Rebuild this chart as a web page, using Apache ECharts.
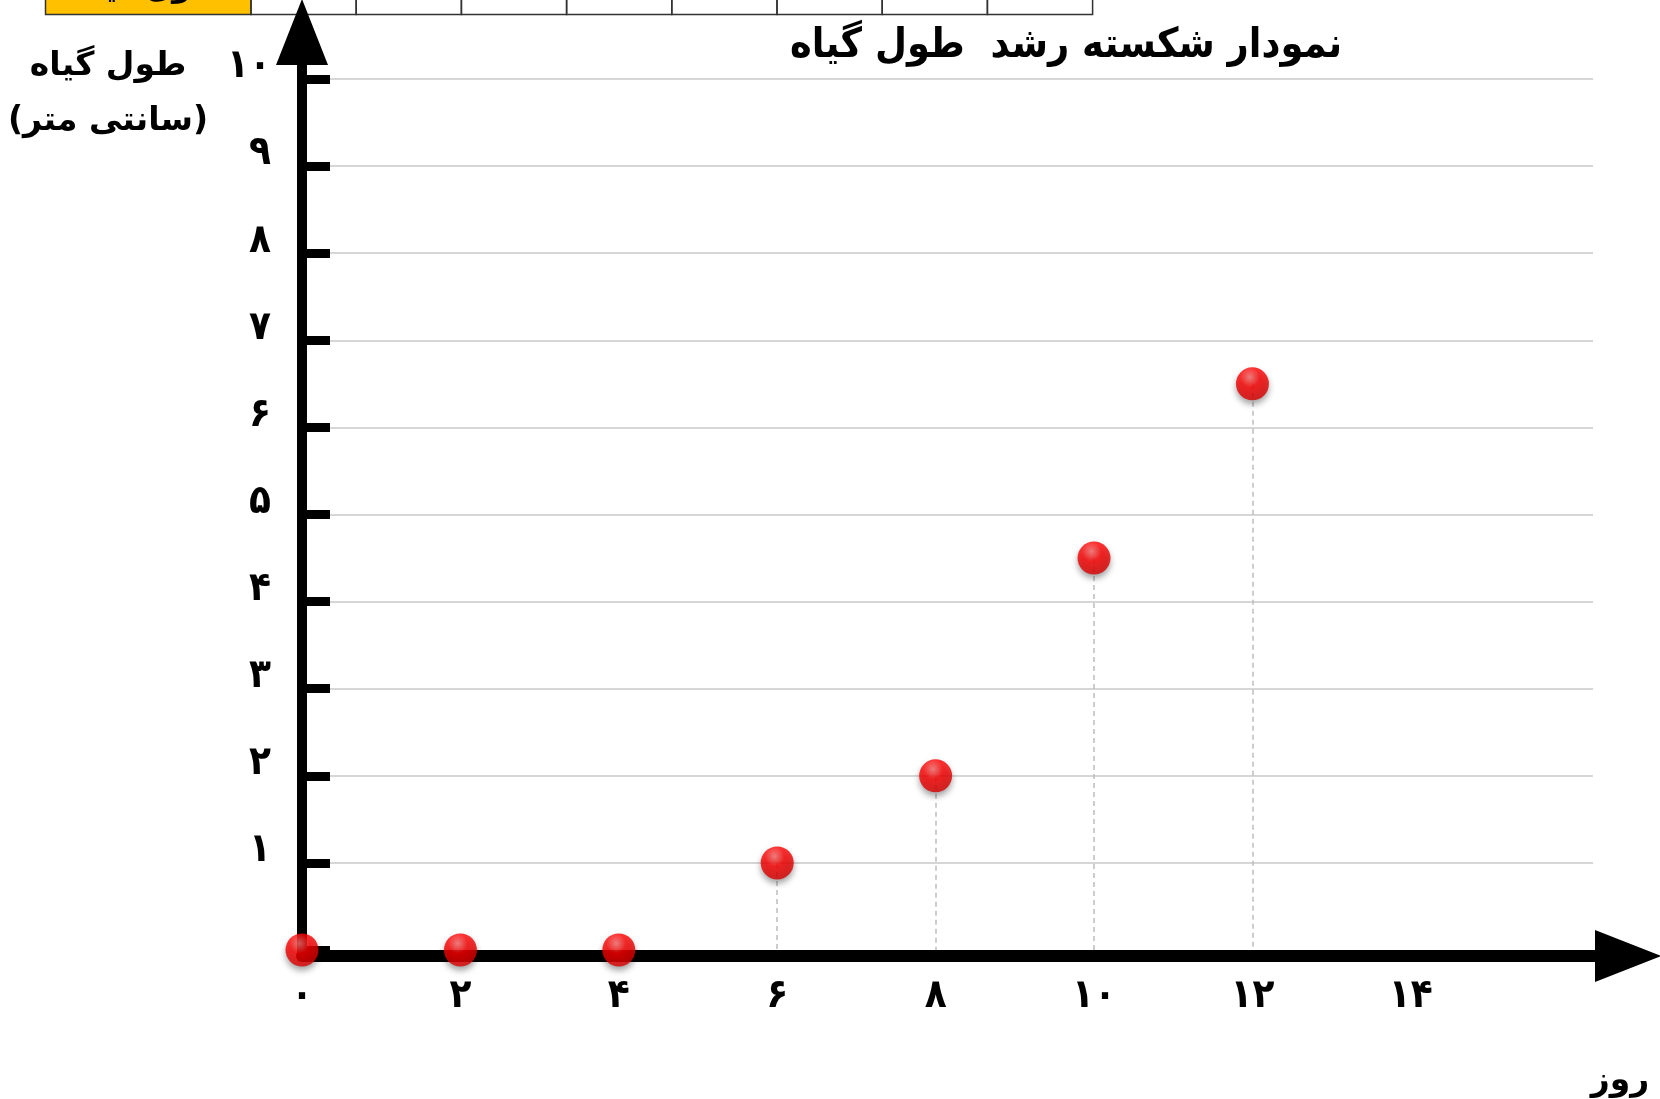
<!DOCTYPE html>
<html>
<head>
<meta charset="utf-8">
<script src="https://cdn.jsdelivr.net/npm/echarts@6/dist/echarts.min.js"></script>
<style>
  html, body { margin: 0; padding: 0; background: #ffffff; }
  #chart { width: 1660px; height: 1099px; }
</style>
</head>
<body>
<div id="chart"></div>
<script>
// ---- data ----
var days = [0, 2, 4, 6, 8, 10, 12];
var heights = [0, 0, 0, 1, 2, 4.5, 6.5];
var xTickLabels = ['۰', '۲', '۴', '۶', '۸', '۱۰', '۱۲', '۱۴'];
var yTickLabels = ['', '۱', '۲', '۳', '۴', '۵', '۶', '۷', '۸', '۹', '۱۰'];
var chartTitle = 'نمودار شکسته رشد  طول گیاه';
var yAxisName = 'طول گیاه\n(سانتی متر)';
var xAxisName = 'روز';
var tableHeader = 'طول گیاه';

var FONT = '"DejaVu Sans Condensed", "DejaVu Sans", sans-serif';
var FONT2 = '"DejaVu Sans", sans-serif';
var chart = echarts.init(document.getElementById('chart'), null, { renderer: 'canvas' });

var points = days.map(function (d, i) { return [d, heights[i]]; });
var dropLines = [];
days.forEach(function (d, i) {
  if (heights[i] > 0) dropLines.push([{ coord: [d, heights[i]] }, { coord: [d, 0] }]);
});

// split line colours: the one at 0 sits under the x axis line
var splitColors = yTickLabels.map(function (t, i) { return i === 0 ? 'rgba(0,0,0,0)' : '#c8c8c8'; });

// decorative table fragment at the top
var tableCells = [];
tableCells.push({ type: 'rect', shape: { x: 45.5, y: -20, width: 205.5, height: 34.5 },
  style: { fill: '#FFC000', stroke: '#333', lineWidth: 1.5 } });
tableCells.push({ type: 'text', x: 148, y: 4, style: { text: tableHeader, fill: '#000',
  font: 'bold 30px ' + FONT2, textAlign: 'center', textVerticalAlign: 'bottom' } });
for (var c = 0; c < 8; c++) {
  tableCells.push({ type: 'rect', shape: { x: 251 + c * 105.2, y: -20, width: 105.2, height: 34.5 },
    style: { fill: 'none', stroke: '#333', lineWidth: 1.5 } });
}

var option = {
  backgroundColor: '#ffffff',
  animation: false,
  title: [
    { text: chartTitle, left: 1066, top: 46, padding: 0, textAlign: 'center', textVerticalAlign: 'middle',
      textStyle: { fontFamily: FONT, fontSize: 41, fontWeight: 'bold', color: '#000' } },
    { text: yAxisName, left: 108, top: 94, padding: 0, textAlign: 'center', textVerticalAlign: 'middle',
      textStyle: { fontFamily: FONT2, fontSize: 33, fontWeight: 'bold', color: '#000', lineHeight: 55 } },
    { text: xAxisName, left: 1620, top: 1081, padding: 0, textAlign: 'center', textVerticalAlign: 'middle',
      textStyle: { fontFamily: FONT2, fontSize: 33, fontWeight: 'bold', color: '#000' } }
  ],
  graphic: tableCells,
  grid: [
    { left: 302, right: 67, top: 79, bottom: 149, containLabel: false },
    { left: 302, right: 65, top: 65, bottom: 143, containLabel: false }
  ],
  xAxis: [
    { type: 'value', gridIndex: 0, min: 0, max: 16.3, interval: 2,
      axisLine: { show: false }, axisTick: { show: false }, splitLine: { show: false },
      axisLabel: { margin: 27, color: '#000', fontFamily: FONT, fontSize: 40, fontWeight: 'bold',
        showMaxLabel: false,
        formatter: function (v) { var k = Math.round(v / 2); return (Math.abs(v - k * 2) < 1e-6 && xTickLabels[k]) ? xTickLabels[k] : ''; } } },
    { type: 'value', gridIndex: 1, min: 0, max: 1,
      axisLine: { show: true, symbol: ['none', 'triangle'], symbolSize: [52, 66], symbolOffset: [0, 33],
        lineStyle: { color: '#000', width: 12 } },
      axisTick: { show: false }, axisLabel: { show: false }, splitLine: { show: false } }
  ],
  yAxis: [
    { type: 'value', gridIndex: 0, min: 0, max: 10, interval: 1,
      axisLine: { show: false },
      axisTick: { show: true, inside: true, length: 28, lineStyle: { color: '#000', width: 9 } },
      splitLine: { show: true, lineStyle: { color: splitColors, width: 1.5 } },
      axisLabel: { margin: 31, color: '#000', fontFamily: FONT, fontSize: 40, fontWeight: 'bold',
        verticalAlign: 'bottom', lineHeight: 24,
        formatter: function (v) { return yTickLabels[Math.round(v)] || ''; } } },
    { type: 'value', gridIndex: 1, min: 0, max: 1,
      axisLine: { show: true, symbol: ['none', 'triangle'], symbolSize: [52, 66], symbolOffset: [0, 33],
        lineStyle: { color: '#000', width: 10 } },
      axisTick: { show: false }, axisLabel: { show: false }, splitLine: { show: false } }
  ],
  series: [
    {
      type: 'scatter', xAxisIndex: 0, yAxisIndex: 0, z: 5,
      data: points,
      symbol: 'circle', symbolSize: 33,
      itemStyle: {
        color: new echarts.graphic.RadialGradient(0.42, 0.3, 0.75, [
          { offset: 0, color: '#ff7070' },
          { offset: 0.4, color: '#ff0000' },
          { offset: 1, color: '#d20000' }
        ]),
        shadowColor: 'rgba(0,0,0,0.45)', shadowBlur: 6, shadowOffsetY: 4
      },
      markLine: {
        silent: true, symbol: ['none', 'none'], label: { show: false }, z: 1,
        lineStyle: { color: '#bdbdbd', width: 1.5, type: [5, 4] },
        data: dropLines
      }
    }
  ]
};
chart.setOption(option);
</script>
</body>
</html>
